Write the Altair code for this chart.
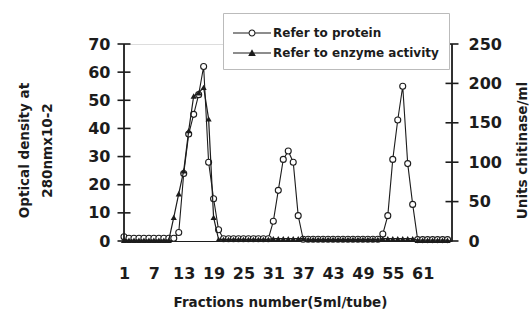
import altair as alt
import pandas as pd

# ---------------- data ----------------
FRACTIONS = list(range(1, 67))
PROTEIN = [1.5, 1.0, 1.0, 1.0, 1.0, 1.0, 1.0, 1.0, 1.0, 1.0, 1.0,
           3, 24, 38, 45, 52, 62, 28, 15, 4,
           0.8, 0.8, 0.8, 0.8, 0.8, 0.8, 0.8, 0.8, 0.8, 0.8,
           7, 18, 29, 32, 28, 9,
           0.6, 0.6, 0.6, 0.6, 0.6, 0.6, 0.6, 0.6, 0.6, 0.6, 0.6, 0.6, 0.6, 0.6, 0.6, 0.6,
           2.5, 9, 29, 43, 55, 27.5, 13,
           0.5, 0.5, 0.5, 0.5, 0.5, 0.5, 0.5]
ENZYME = [1, 1, 1, 1, 1, 1, 1, 1, 1, 1,
          30, 60, 89, 140, 184, 188, 195, 155, 30,
          2, 2, 2, 2, 2, 2, 2, 2, 2, 2, 2,
          3, 3, 3, 3, 3, 3, 3,
          2, 2, 2, 2, 2, 2, 2, 2, 2, 2, 2, 2, 2, 2, 2,
          3, 3, 3, 3, 3, 3, 3,
          1, 1, 1, 1, 1, 1, 1]
SERIES = ["Refer to protein", "Refer to enzyme activity"]
X_TICKS = [1, 7, 13, 19, 25, 31, 37, 43, 49, 55, 61]
LEFT_TICKS = [0, 10, 20, 30, 40, 50, 60, 70]
RIGHT_TICKS = [0, 50, 100, 150, 200, 250]
LEFT_TITLE = ["Optical density at", "280nmx10-2"]
RIGHT_TITLE = "Units chitinase/ml"
X_TITLE = "Fractions number(5ml/tube)"

X_MIN, X_MAX = 1, 66.9
LEFT_MAX, RIGHT_MAX = 70, 250

# ---------------- styling ----------------
W, H = 328, 197
FONT = "DejaVu Sans"
INK = "#1c1c1c"
# legend glyphs: line segment + marker, drawn as filled shapes
CIRCLE_PATH = ("M-1,-0.06L0.55,-0.06L0.55,0.06L-1,0.06Z"
               "M1.25,-0.06L2.8,-0.06L2.8,0.06L1.25,0.06Z"
               "M1.25,0A0.35,0.35,0,1,1,0.55,0A0.35,0.35,0,1,1,1.25,0Z"
               "M1.14,0A0.24,0.24,0,1,0,0.66,0A0.24,0.24,0,1,0,1.14,0Z")
TRI_PATH = ("M-1,-0.06L2.8,-0.06L2.8,0.06L-1,0.06Z"
            "M0.52,0.3L0.9,-0.38L1.28,0.3Z")

df = pd.DataFrame({"fraction": FRACTIONS, "protein": PROTEIN, "enzyme": ENZYME})
left_ticks = pd.DataFrame({"v": LEFT_TICKS, "f": [X_MIN] * len(LEFT_TICKS)})
right_ticks = pd.DataFrame({"v": RIGHT_TICKS, "f": [X_MAX] * len(RIGHT_TICKS)})
left_span = pd.DataFrame({"a": [0], "b": [LEFT_MAX], "f": [X_MIN]})
right_span = pd.DataFrame({"a": [0], "b": [RIGHT_MAX], "f": [X_MAX]})

xscale = alt.Scale(domain=[X_MIN, X_MAX], nice=False, zero=False)
lscale = alt.Scale(domain=[0, LEFT_MAX], nice=False)
rscale = alt.Scale(domain=[0, RIGHT_MAX], nice=False)

x_axis = alt.Axis(
    values=X_TICKS, title=X_TITLE, orient="bottom", grid=False,
    domain=True, domainColor=INK, domainWidth=1, ticks=False,
    labelPadding=24, labelFont=FONT, labelFontSize=16, labelFontWeight="bold",
    labelColor=INK, labelFlush=False, labelOverlap=False,
    titleFont=FONT, titleFontSize=13.5, titleFontWeight="bold", titleColor=INK,
    titleX=156, titleY=61, titleAlign="center", titleBaseline="middle",
)
left_axis = alt.Axis(
    orient="left", values=LEFT_TICKS, title=LEFT_TITLE, grid=False,
    domain=False, ticks=False, labelPadding=14,
    labelFont=FONT, labelFontSize=16, labelFontWeight="bold", labelColor=INK,
    titleFont=FONT, titleFontSize=13.5, titleFontWeight="bold", titleColor=INK,
    titleAngle=270, titleX=-100, titleY=106, titleAlign="center",
    titleBaseline="middle", titleLineHeight=23,
)
right_axis = alt.Axis(
    orient="right", values=RIGHT_TICKS, title=RIGHT_TITLE, grid=False,
    domain=False, ticks=False, labelPadding=16,
    labelFont=FONT, labelFontSize=16, labelFontWeight="bold", labelColor=INK,
    titleFont=FONT, titleFontSize=13.5, titleFontWeight="bold", titleColor=INK,
    titleAngle=270, titleX=70, titleY=106, titleAlign="center",
    titleBaseline="middle",
)


def X(field):
    return alt.X(field, type="quantitative", scale=xscale, axis=x_axis)


def YL(field):
    return alt.Y(field, type="quantitative", scale=lscale, axis=left_axis)


def YR(field):
    return alt.Y(field, type="quantitative", scale=rscale, axis=right_axis)


base = alt.Chart(df)

# ---- left (protein) group ----
prot_line = base.mark_line(color=INK, strokeWidth=1.1).encode(x=X("fraction"), y=YL("protein"))
prot_pts = base.mark_point(shape="circle", filled=True, fill="white",
                           stroke=INK, strokeWidth=1.1, size=36, opacity=1).encode(
    x=X("fraction"), y=YL("protein"))
l_rule = alt.Chart(left_span).mark_rule(color=INK, strokeWidth=1.8).encode(
    x=X("f"), y=YL("a"), y2="b:Q")
l_ticks = alt.Chart(left_ticks).mark_tick(orient="horizontal", size=13, thickness=1.6,
                                          color=INK, opacity=1).encode(x=X("f"), y=YL("v"))

legend = alt.Legend(
    orient="none", legendX=99, legendY=-31, title=None, direction="vertical",
    labelFont=FONT, labelFontSize=12, labelFontWeight="bold", labelColor=INK,
    labelLimit=400, labelOffset=20, symbolSize=400, symbolFillColor=INK,
    symbolStrokeWidth=0, padding=10, rowPadding=4, strokeColor="#bbbbbb",
    fillColor="white",
)
legend_layer = base.transform_calculate(series="'x'").transform_filter(
    "datum.fraction < 0").mark_point(filled=True, color=INK, size=400, opacity=1).encode(
    x=X("fraction"), y=YL("protein"),
    shape=alt.Shape("series:N", scale=alt.Scale(domain=SERIES, range=[CIRCLE_PATH, TRI_PATH]),
                    legend=legend),
)

left_group = alt.layer(prot_line, prot_pts, l_rule, l_ticks, legend_layer)

# ---- right (enzyme) group ----
enz_line = base.mark_line(color=INK, strokeWidth=1.2).encode(x=X("fraction"), y=YR("enzyme"))
enz_pts = base.mark_point(shape="triangle-up", filled=True, color=INK, size=38, opacity=1).encode(
    x=X("fraction"), y=YR("enzyme"))
r_rule = alt.Chart(right_span).mark_rule(color=INK, strokeWidth=1.8).encode(
    x=X("f"), y=YR("a"), y2="b:Q")
r_ticks = alt.Chart(right_ticks).mark_tick(orient="horizontal", size=13, thickness=1.6,
                                           color=INK, opacity=1).encode(x=X("f"), y=YR("v"))

right_group = alt.layer(enz_line, enz_pts, r_rule, r_ticks)

chart = (
    alt.layer(left_group, right_group)
    .resolve_scale(y="independent")
    .properties(width=W, height=H, autosize=alt.AutoSizeParams(type="none"),
                padding={"left": 124, "top": 44, "right": 77, "bottom": 80})
    .configure_view(stroke=None)
    .configure(background="white")
)

chart.save("out.html", embed_options={"renderer": "svg", "actions": False})
